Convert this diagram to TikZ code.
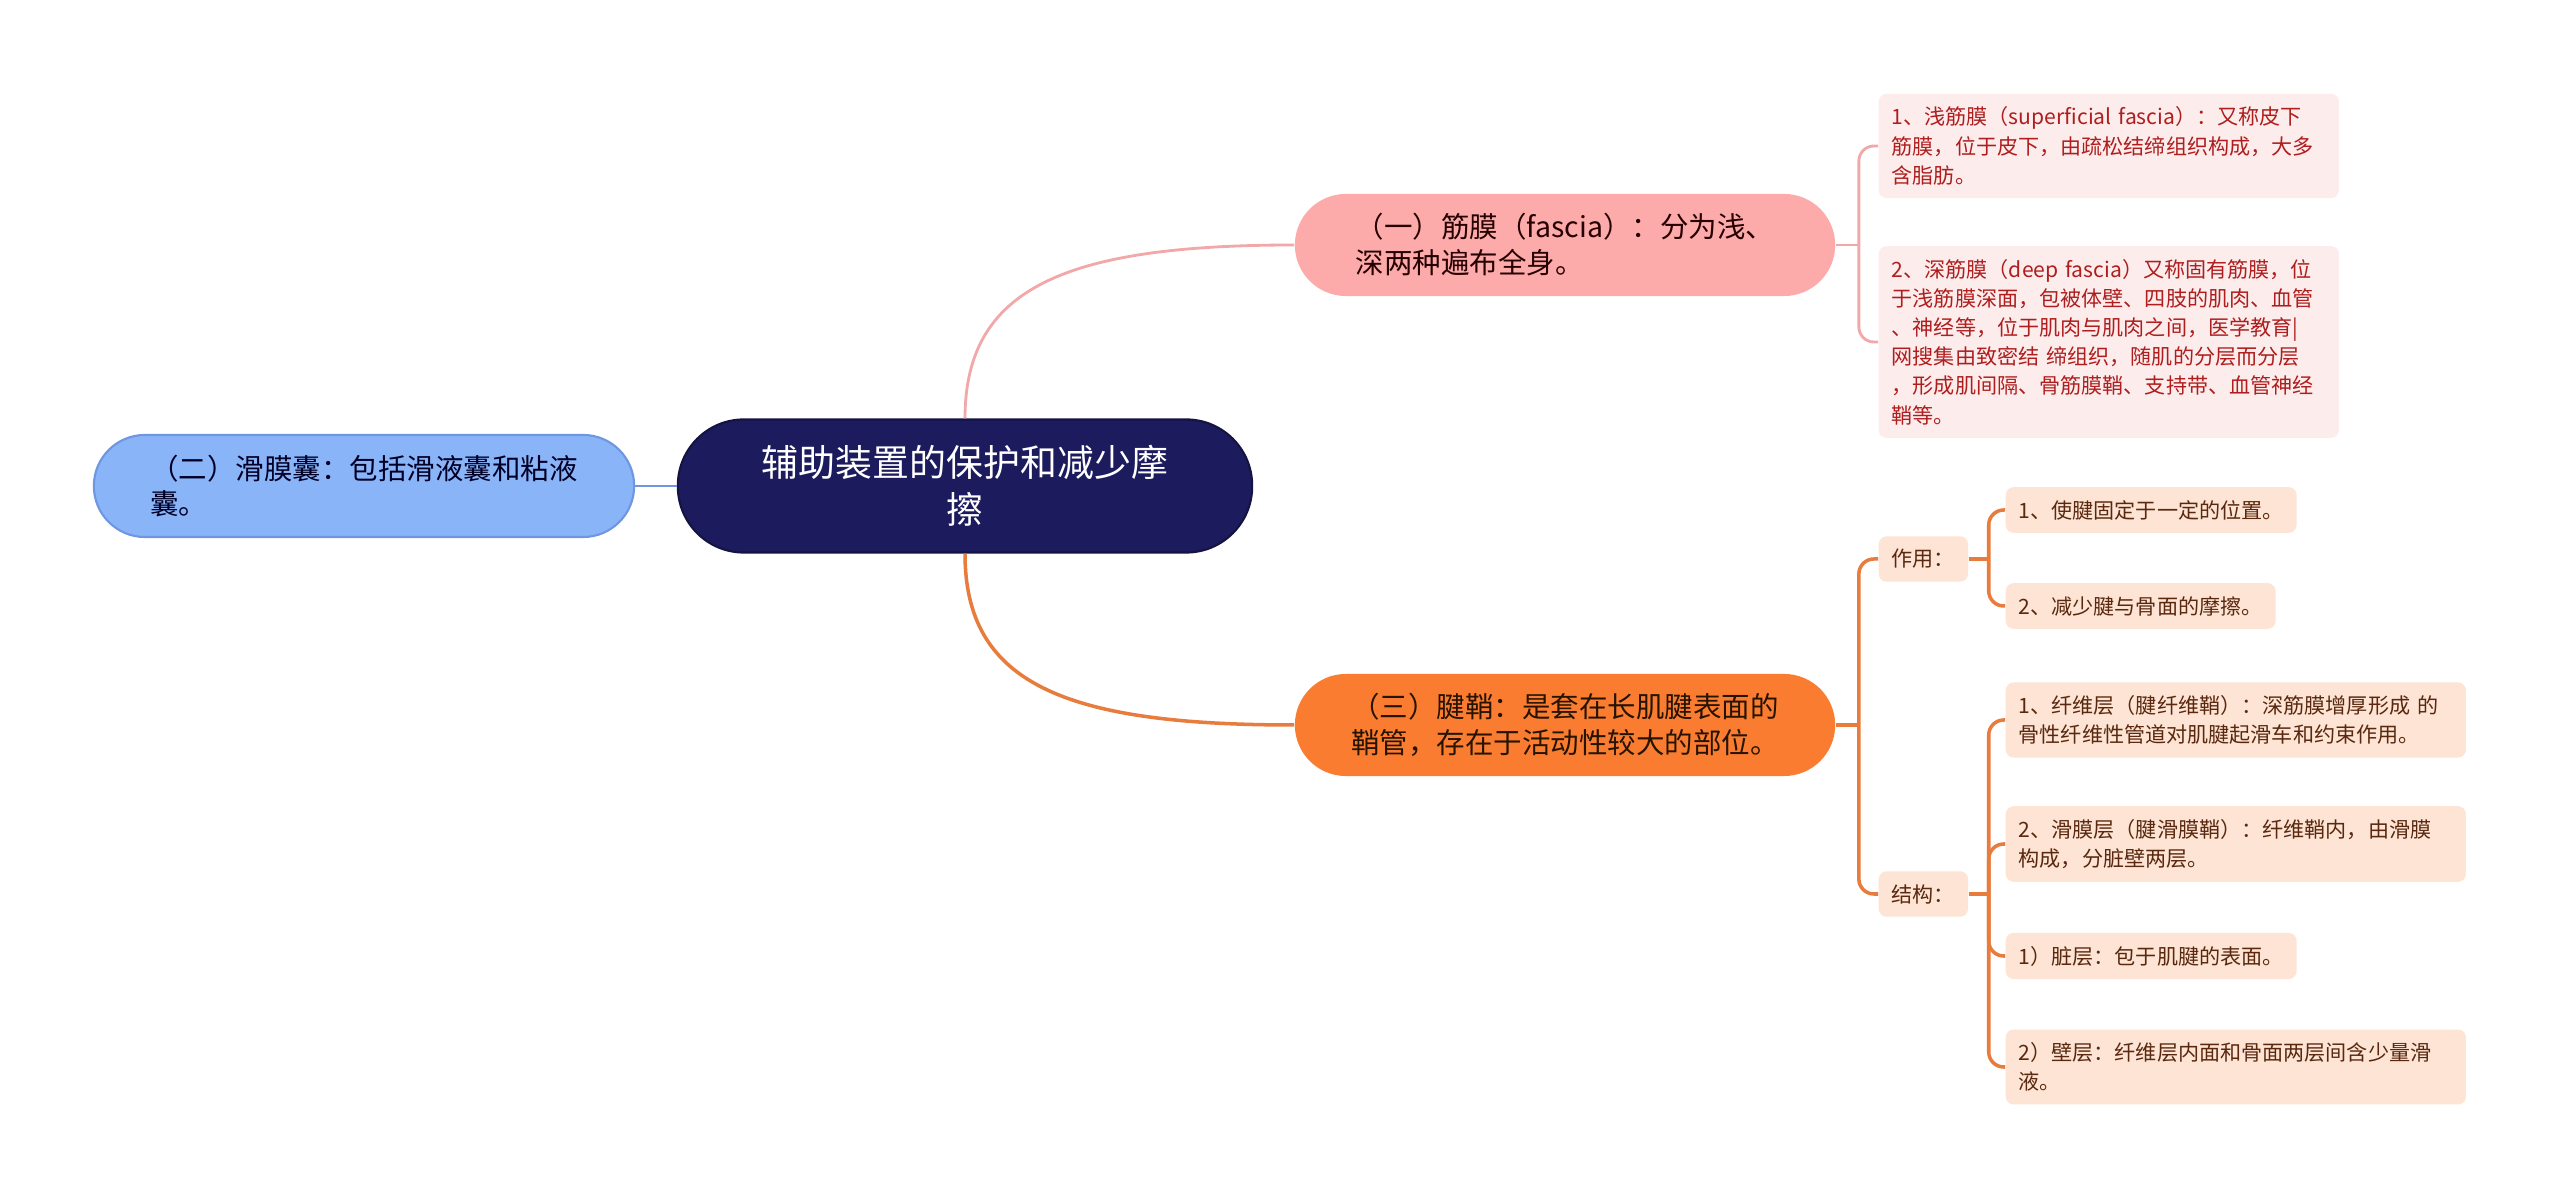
\documentclass[tikz,border=0pt]{standalone}
\usepackage{fontspec}
\setmainfont{Noto Sans CJK SC}
\definecolor{zhuti}{RGB}{28,27,94}
\definecolor{jmfill}{RGB}{252,170,170}
\definecolor{jmline}{RGB}{242,168,168}
\definecolor{jmleaf}{RGB}{253,236,236}
\definecolor{jmleaftext}{RGB}{175,30,30}
\definecolor{jqfill}{RGB}{250,124,48}
\definecolor{jqline}{RGB}{232,124,60}
\definecolor{jqleaf}{RGB}{253,228,212}
\definecolor{jqleaftext}{RGB}{90,40,15}
\definecolor{hmfill}{RGB}{138,180,248}
\definecolor{hmline}{RGB}{110,150,225}

\begin{document}
\begin{tikzpicture}[x=0.01cm, y=0.01cm,
    root/.style={fill=zhuti, draw=zhuti!70!black, line width=0.6pt, text=white,
                 rounded corners=0.66cm, minimum width=5.74cm, minimum height=1.33cm,
                 align=center, font=\fontsize{10.5pt}{13.4pt}\selectfont},
    zhi/.style={rounded corners=0.51cm, minimum width=5.4cm, minimum height=1.02cm,
                align=left, font=\fontsize{8.1pt}{10.2pt}\selectfont},
    jinmo/.style={zhi, fill=jmfill, text=black!85!red},
    jianqiao/.style={zhi, fill=jqfill, text=black!85!orange},
    huamo/.style={zhi, fill=hmfill, draw=hmline, line width=0.6pt, text=black!85!blue},
    ye/.style={rounded corners=0.08cm, inner xsep=0.13cm, inner ysep=0.13cm, anchor=west,
               align=left, font=\fontsize{6pt}{8.3pt}\selectfont},
    jmye/.style={ye, fill=jmleaf, text=jmleaftext, text width=4.34cm},
    jqye/.style={ye, fill=jqleaf, text=jqleaftext},
    kuan/.style={text width=4.34cm},
    jmlian/.style={line width=0.8pt, jmline},
    jqlian/.style={line width=1pt, jqline},
    hmlian/.style={line width=0.8pt, hmline}]
  \fill[white] (0,0) rectangle (2560,1200);
  \useasboundingbox (0,0) rectangle (2560,1200);

  \node[root] (zhuti) at (965,714) {辅助装置的保护和减少摩\\擦};
  \node[huamo] (huamo) at (364,714) {（二）滑膜囊：包括滑液囊和粘液\\囊。};
  \node[jinmo] (jinmo) at (1565,955) {（一）筋膜（fascia）：分为浅、\\深两种遍布全身。};
  \node[jianqiao] (jianqiao) at (1565,475) {（三）腱鞘：是套在长肌腱表面的\\鞘管，存在于活动性较大的部位。};

  % 筋膜
  \node[jmye] (qian) at (1878,1054) {1、浅筋膜（superficial fascia）：又称皮下\\筋膜，位于皮下，由疏松结缔组织构成，大多\\含脂肪。};
  \node[jmye] (shen) at (1878,858) {2、深筋膜（deep fascia）又称固有筋膜，位\\于浅筋膜深面，包被体壁、四肢的肌肉、血管\\、神经等，位于肌肉与肌肉之间，医学教育|\\网搜集由致密结 缔组织，随肌的分层而分层\\，形成肌间隔、骨筋膜鞘、支持带、血管神经\\鞘等。};

  % 腱鞘
  \node[jqye] (zuoyong) at (1878,641) {作用：};
  \node[jqye] (jiegou) at (1878,306) {结构：};
  \node[jqye] (zy1) at (2005,690) {1、使腱固定于一定的位置。};
  \node[jqye] (zy2) at (2005,594) {2、减少腱与骨面的摩擦。};
  \node[jqye, kuan] (jg1) at (2005,480) {1、纤维层（腱纤维鞘）：深筋膜增厚形成 的\\骨性纤维性管道对肌腱起滑车和约束作用。};
  \node[jqye, kuan] (jg2) at (2005,356) {2、滑膜层（腱滑膜鞘）：纤维鞘内，由滑膜\\构成，分脏壁两层。};
  \node[jqye] (jg3) at (2005,244) {1）脏层：包于肌腱的表面。};
  \node[jqye, kuan] (jg4) at (2005,133) {2）壁层：纤维层内面和骨面两层间含少量滑\\液。};

  % connectors
  \draw[hmlian] (zhuti.west) -- (huamo.east);
  \draw[jmlian] (zhuti.north) .. controls +(0,130) and +(-230,0) .. (jinmo.west);
  \draw[jqlian] (zhuti.south) .. controls +(0,-130) and +(-230,0) .. (jianqiao.west);

  \draw[jmlian] (jinmo.east) -- ++(23,0) coordinate (jm-j);
  \foreach \n in {qian,shen} \draw[jmlian, rounded corners=0.15cm] (jm-j) |- (\n.west);

  \draw[jqlian] (jianqiao.east) -- ++(23,0) coordinate (jq-j);
  \foreach \n in {zuoyong,jiegou} \draw[jqlian, rounded corners=0.15cm] (jq-j) |- (\n.west);

  \draw[jqlian] (zuoyong.east) -- ++(20,0) coordinate (zy-j);
  \foreach \n in {zy1,zy2} \draw[jqlian, rounded corners=0.15cm] (zy-j) |- (\n.west);

  \draw[jqlian] (jiegou.east) -- ++(20,0) coordinate (jg-j);
  \foreach \n in {jg1,jg2,jg3,jg4} \draw[jqlian, rounded corners=0.15cm] (jg-j) |- (\n.west);
\end{tikzpicture}
\end{document}
